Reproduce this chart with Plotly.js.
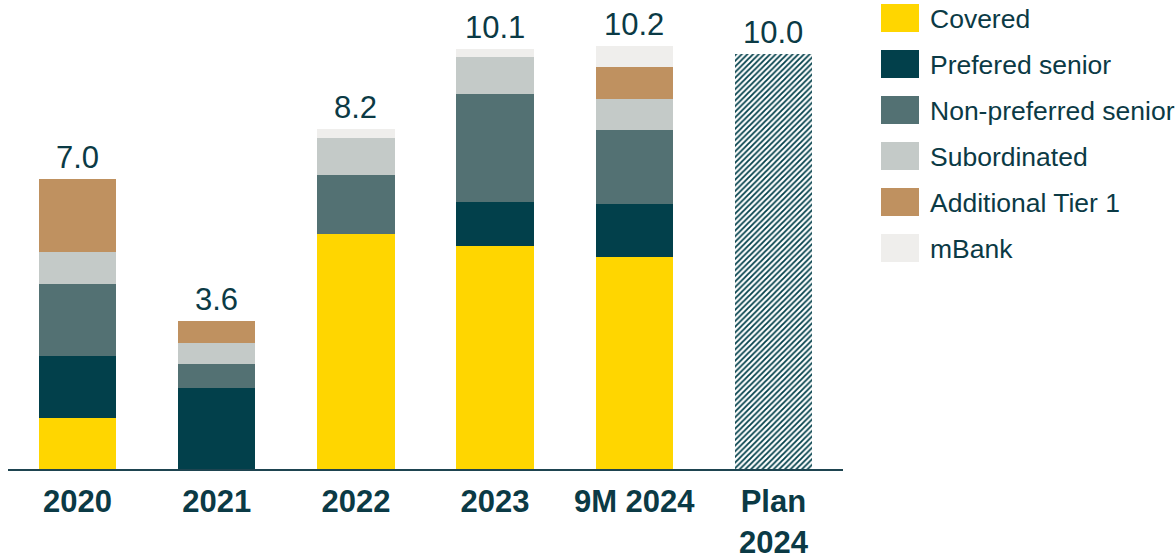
<!DOCTYPE html>
<html>
<head>
<meta charset="utf-8">
<script src="https://cdn.plot.ly/plotly-3.0.1.min.js"></script>
<style>html,body{margin:0;padding:0;background:#fff;}#chart{width:1176px;height:560px;}</style>
</head>
<body>
<div id="chart"></div>
<script>
// ---- data ----
const categories = ['2020', '2021', '2022', '2023', '9M 2024', 'Plan<br>2024'];
const seriesNames = ['Covered', 'Prefered senior', 'Non-preferred senior', 'Subordinated', 'Additional Tier 1', 'mBank'];
const covered      = [1.23, 0,    5.67, 5.38, 5.11, null];
const preferred    = [1.50, 1.96, 0,    1.07, 1.29, null];
const nonPreferred = [1.74, 0.58, 1.42, 2.59, 1.78, null];
const subordinated = [0.77, 0.50, 0.89, 0.90, 0.75, null];
const at1          = [1.75, 0.54, 0,    0,    0.76, null];
const mbank        = [0,    0,    0.21, 0.18, 0.51, null];
const plan         = [null, null, null, null, null, 10.0];

// ---- styles ----
const colors = ['#FFD600', '#02404B', '#537173', '#C4CAC8', '#BF9160', '#EFEEEC'];
const textColor = '#0B3A45';
const fontFam = '"Liberation Sans", Arial, sans-serif';

const W = 1176, H = 560;
const M = {l: 8, r: 333, t: 13, b: 91};
const px2x = p => (p - M.l) / (W - M.l - M.r);
const py2y = p => (H - M.b - p) / (H - M.t - M.b);

const seriesValues = [covered, preferred, nonPreferred, subordinated, at1, mbank];
const traces = seriesValues.map((vals, i) => ({
  type: 'bar', x: categories, y: vals, name: seriesNames[i],
  marker: {color: colors[i], line: {width: 0}},
  showlegend: false, hoverinfo: 'skip'
}));
traces.push({
  type: 'bar', x: categories, y: plan, name: 'Plan',
  marker: {color: '#ffffff', line: {width: 0},
    pattern: {shape: '/', fgcolor: '#02404B', bgcolor: '#ffffff', size: 4, solidity: 0.45}},
  showlegend: false, hoverinfo: 'skip'
});

const totals = categories.map((c, j) => {
  if (plan[j] != null) return plan[j];
  return seriesValues.reduce((s, arr) => s + (arr[j] || 0), 0);
});

const annotations = categories.map((c, j) => ({
  x: j, y: totals[j], xref: 'x', yref: 'y',
  text: totals[j].toFixed(1), showarrow: false,
  yanchor: 'bottom', yshift: 2,
  font: {family: fontFam, size: 31, color: textColor}
}));

// manual legend
const shapes = [];
seriesNames.forEach((name, i) => {
  const cy = 18 + i * 46;
  shapes.push({
    type: 'rect', xref: 'paper', yref: 'paper',
    x0: px2x(881), x1: px2x(919), y0: py2y(cy + 14), y1: py2y(cy - 14),
    fillcolor: colors[i], line: {width: 0}
  });
  annotations.push({
    xref: 'paper', yref: 'paper', x: px2x(928), y: py2y(cy + 1),
    xanchor: 'left', yanchor: 'middle', showarrow: false, text: name,
    font: {family: fontFam, size: 26.5, color: textColor}
  });
});

const layout = {
  width: W, height: H,
  margin: M,
  paper_bgcolor: '#ffffff', plot_bgcolor: '#ffffff',
  barmode: 'stack', bargap: 0.445,
  showlegend: false,
  xaxis: {
    type: 'category', range: [-0.5, 5.5],
    showline: true, linecolor: '#1E4450', linewidth: 2,
    ticks: '', showgrid: false, zeroline: false,
    tickfont: {family: fontFam, size: 31, color: textColor, weight: 'bold'},
    ticklabelstandoff: 4
  },
  yaxis: {
    range: [0, 11], visible: false, showgrid: false, zeroline: false
  },
  annotations: annotations,
  shapes: shapes
};

Plotly.newPlot('chart', traces, layout, {displayModeBar: false, staticPlot: true});
</script>
</body>
</html>
